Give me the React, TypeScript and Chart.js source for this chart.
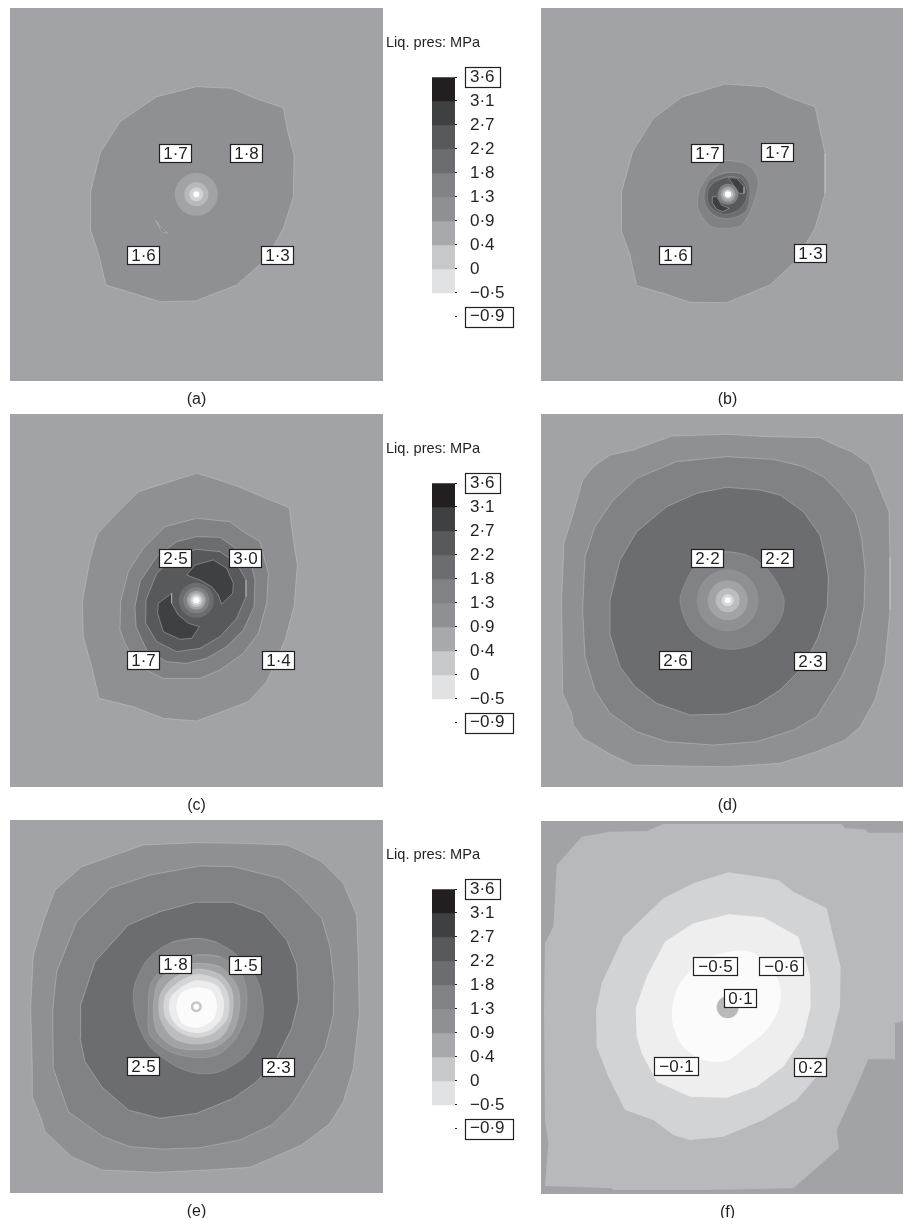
import React, { useEffect, useRef } from "react";
import { Chart, registerables } from "chart.js";

Chart.register(...registerables);

type Pt = [number, number];

const FONT = '"Liberation Sans", Arial, sans-serif';
const INK = "#231f20";
const CONTOUR = "rgba(208,209,211,0.65)";
const ROUND = 0.3;

// Grey steps of the pressure scale, darkest first
const G36 = "#231f20";
const G31 = "#3f4042";
const G27 = "#58595b";
const G22 = "#6c6d70";
const G18 = "#808285";
const G13 = "#8f9093";
const G09 = "#a2a3a6";
const G06 = "#b8b9bc";
const G04 = "#c7c8ca";
const G02 = "#d2d3d5";
const G00 = "#e1e2e3";
const G_1 = "#eeeeef";
const G_5 = "#fbfbfb";

// Legend
const LEGEND_TITLE = "Liq. pres: MPa";
const LEGEND_LABELS = ["3·6", "3·1", "2·7", "2·2", "1·8", "1·3", "0·9", "0·4", "0", "−0·5", "−0·9"];
const LEGEND_BANDS = [G36, G31, G27, G22, G18, G13, "#a7a9ac", G04, G00];
const LEGEND_BOXED = [0, 10];

// Panel (a)
const A_OUTER: Pt[] = [[590,260],[695,265],[770,297],[850,323],[862,390],[882,465],[880,590],[850,685],[800,775],[710,855],[585,903],[480,905],[400,880],[318,855],[295,760],[272,690],[272,575],[300,460],[360,365],[470,290]];
const A_SLIVER: Pt[] = [[468,662],[480,680],[503,700],[485,695]];
const A_CENTRE = { x: 589, y: 583 };
const A_RINGS: [number, string][] = [[21.5, G09], [12, G06], [7, G02], [3, "#ffffff"]];
const A_LABELS: [number, number, string][] = [[527,459,"1·7"],[738,460,"1·8"],[431,765,"1·6"],[833,765,"1·3"]];

// Panel (b)
const B_OUTER: Pt[] = [[555,252],[675,260],[745,292],[825,320],[838,380],[855,460],[855,580],[825,685],[770,780],[690,855],[560,908],[450,907],[370,880],[290,857],[270,765],[245,695],[245,575],[278,455],[340,355],[425,292]];
const B_L18: Pt[] = [[550,483],[605,487],[640,510],[655,545],[640,610],[605,675],[555,685],[515,680],[490,655],[473,620],[480,565],[515,515]];
const B_L22: Pt[] = [[560,518],[600,520],[625,545],[630,580],[620,630],[590,650],[550,655],[515,640],[495,610],[495,570],[515,535]];
const B_L27: Pt[] = [[565,530],[600,535],[620,565],[618,600],[595,630],[555,643],[525,632],[505,610],[505,570],[525,545]];
const B_D1: Pt[] = [[565,533],[590,535],[612,560],[612,580],[598,580],[585,562]];
const B_D2: Pt[] = [[517,590],[530,590],[545,615],[568,625],[548,635],[530,628],[518,610]];
const B_CENTRE = { x: 564, y: 583 };
const B_RINGS: [number, string][] = [[10.5, G18], [7.5, G09], [5, G04], [3, "#ffffff"]];
const B_LABELS: [number, number, string][] = [[503,459,"1·7"],[711,457,"1·7"],[406,765,"1·6"],[810,761,"1·3"]];

// Panel (c)
const C_OUTER: Pt[] = [[590,190],[640,205],[710,228],[790,262],[868,293],[878,375],[892,465],[882,590],[855,690],[800,815],[745,875],[665,905],[590,933],[490,925],[400,890],[297,865],[275,770],[250,680],[247,575],[270,450],[292,372],[350,310],[415,245],[520,212]];
const C_L18: Pt[] = [[590,325],[690,335],[730,365],[780,395],[790,435],[805,490],[800,580],[775,670],[730,730],[660,780],[600,805],[490,805],[440,780],[400,745],[375,700],[360,660],[362,575],[385,485],[430,415],[495,350]];
const C_L22: Pt[] = [[590,380],[660,382],[700,410],[750,450],[765,510],[762,590],[730,660],[680,710],[620,745],[560,760],[500,755],[440,720],[408,650],[405,590],[420,515],[470,440],[530,395]];
const C_L27: Pt[] = [[590,418],[660,425],[710,460],[738,510],[738,560],[710,625],[660,680],[600,715],[530,725],[470,695],[437,640],[438,570],[470,490],[530,435]];
const C_D1: Pt[] = [[560,495],[585,465],[640,450],[680,475],[700,520],[698,550],[665,582],[655,555],[635,530],[600,510]];
const C_D2: Pt[] = [[515,550],[515,580],[535,615],[565,640],[598,650],[575,685],[540,688],[490,665],[473,610],[475,580]];
const C_CENTRE = { x: 589, y: 571 };
const C_RINGS: [number, string][] = [[17.5, G22], [13, G18], [9.5, G09], [7, "#bcbdbf"], [5, "#d9dadb"], [3, "#ffffff"]];
const C_LABELS: [number, number, string][] = [[527,445,"2·5"],[737,445,"3·0"],[431,752,"1·7"],[835,752,"1·4"]];

// Panel (d)
const D_OUTER: Pt[] = [[560,73],[680,80],[840,83],[885,105],[935,125],[990,165],[1010,215],[1047,305],[1050,440],[1050,600],[1035,760],[1005,870],[960,950],[915,990],[830,1025],[720,1060],[560,1070],[420,1068],[280,1065],[215,1035],[130,985],[100,945],[95,910],[68,850],[65,570],[72,400],[100,310],[128,210],[160,170],[210,135],[280,120],[395,78]];
const D_L18: Pt[] = [[560,140],[700,148],[790,170],[850,200],[900,250],[945,310],[965,385],[975,480],[972,590],[950,700],[905,800],[830,920],[760,960],[650,995],[520,1005],[380,995],[290,965],[210,910],[165,840],[135,740],[128,600],[135,440],[165,350],[220,270],[290,205],[410,155]];
const D_L22: Pt[] = [[560,232],[660,240],[720,255],[790,305],[840,375],[855,440],[865,500],[862,590],[835,680],[790,770],[720,840],[650,885],[560,912],[450,915],[350,880],[285,830],[240,770],[212,680],[210,570],[240,450],[290,365],[380,290],[470,250]];
const D_RING: Pt[] = [[555,425],[620,435],[665,460],[700,500],[725,545],[733,575],[725,620],[690,670],[640,705],[580,718],[530,712],[480,685],[445,650],[425,600],[420,565],[435,520],[460,475],[500,440]];
const D_CENTRE = { x: 563, y: 571 };
const D_RINGS: [number, string][] = [[31, G13], [20, G09], [12, "#bcbdbf"], [6, "#d9dadb"], [3, "#ffffff"]];
const D_LABELS: [number, number, string][] = [[503,446,"2·2"],[711,446,"2·2"],[406,752,"2·6"],[810,753,"2·3"]];

// Panel (e)
const E_OUTER: Pt[] = [[590,83],[720,85],[860,90],[905,110],[965,140],[1030,205],[1070,300],[1075,440],[1078,600],[1060,760],[1030,860],[990,925],[905,990],[790,1040],[750,1057],[620,1065],[470,1072],[305,1065],[215,1025],[135,950],[125,915],[97,845],[97,760],[92,580],[100,420],[130,320],[165,225],[245,155],[430,90]];
const E_L18: Pt[] = [[600,153],[700,155],[840,190],[895,235],[965,310],[990,395],[1002,500],[1000,600],[975,700],[930,780],[875,870],[815,930],[720,975],[600,998],[490,1002],[390,995],[310,965],[205,890],[160,760],[158,590],[170,470],[230,320],[330,220],[450,180]];
const E_L22: Pt[] = [[585,262],[700,262],[790,295],[860,375],[890,450],[895,560],[875,640],[830,730],[770,800],[700,850],[590,895],[480,910],[385,885],[305,815],[255,740],[240,670],[242,570],[285,440],[385,330],[480,290]];
const E_R18: Pt[] = [[590,370],[650,382],[710,420],[770,490],[790,575],[780,650],[740,720],[660,770],[590,775],[520,750],[450,695],[415,630],[400,560],[405,505],[445,430],[515,382]];
const E_R13: Pt[] = [[590,420],[660,425],[720,470],[740,530],[735,610],[700,680],[650,720],[590,728],[510,710],[450,660],[445,580],[455,500],[520,440]];
const E_R09: Pt[] = [[590,445],[660,455],[710,510],[720,570],[700,650],[650,695],[590,705],[520,695],[470,650],[460,580],[475,500],[530,460]];
const E_R06: Pt[] = [[590,462],[660,478],[697,530],[695,610],[660,670],[590,688],[520,670],[480,610],[480,540],[520,490]];
const E_R04: Pt[] = [[590,478],[655,495],[685,540],[682,610],[640,655],[590,668],[535,650],[495,605],[495,545],[530,505]];
const E_R00: Pt[] = [[590,495],[650,510],[672,560],[665,610],[630,645],[590,655],[540,640],[510,600],[510,550],[545,515]];
const E_R_5: Pt[] = [[590,515],[635,525],[652,570],[640,615],[590,640],[545,625],[528,575],[545,530]];
const E_CENTRE = { x: 589, y: 575 };
const E_RINGS: [number, string][] = [[5.5, "#c4c5c7"], [3, "#ffffff"]];
const E_LABELS: [number, number, string][] = [[527,449,"1·8"],[737,450,"1·5"],[431,753,"2·5"],[835,757,"2·3"]];

// Panel (f)
const F_OUTER: Pt[] = [[370,12],[905,12],[915,25],[975,28],[985,38],[1122,38],[1122,595],[1065,610],[1065,718],[985,718],[950,800],[890,930],[897,985],[840,1035],[760,1105],[500,1110],[220,1110],[215,1105],[15,1098],[25,970],[15,900],[12,570],[15,370],[40,320],[50,135],[125,50],[210,35],[320,33]];
const F_L00: Pt[] = [[565,157],[660,170],[715,180],[760,215],[860,265],[880,350],[902,440],[900,560],[870,680],[830,770],[770,840],[670,900],[550,950],[450,960],[400,945],[340,900],[255,870],[205,770],[170,680],[168,570],[185,490],[250,350],[370,235],[460,190]];
const F_L01: Pt[] = [[565,283],[670,292],[775,350],[810,465],[812,560],[790,650],[730,740],[650,800],[560,833],[450,830],[350,785],[305,700],[290,650],[287,565],[320,470],[375,365],[460,310]];
const F_L05: Pt[] = [[630,395],[680,430],[718,490],[718,560],[680,630],[620,680],[560,722],[490,720],[430,680],[400,620],[397,560],[420,490],[490,420],[570,395]];
const F_CENTRE = { x: 563, y: 562 };
const F_RINGS: [number, string][] = [[11, "#b8b9bb"]];
const F_LABELS: [number, number, string][] = [[525,439,"−0·5"],[723,438,"−0·6"],[602,534,"0·1"],[409,740,"−0·1"],[811,742,"0·2"]];

const PANEL_SPAN = 1119;

type Layer = [Pt[], string, number?];
type Panel = {
  caption: string;
  left: number;
  top: number;
  x0: number;
  y0: number;
  ground: string;
  outline: number;
  polys: Layer[];
  centre: { x: number; y: number };
  rings: [number, string][];
  labels: [number, number, string][];
};

const PANELS: Panel[] = [
  { caption: "(a)", left: 10, top: 8, x0: 30, y0: 24, ground: G09, outline: 0.6, polys: [[A_OUTER, G13], [A_SLIVER, G18]], centre: A_CENTRE, rings: A_RINGS, labels: A_LABELS },
  { caption: "(b)", left: 541, top: 8, x0: 3, y0: 24, ground: G09, outline: 0.6, polys: [[B_OUTER, G13], [B_L18, G18, ROUND], [B_L22, G22, ROUND], [B_L27, G27, ROUND], [B_D1, G31], [B_D2, G31]], centre: B_CENTRE, rings: B_RINGS, labels: B_LABELS },
  { caption: "(c)", left: 10, top: 414, x0: 30, y0: 12, ground: G09, outline: 0.6, polys: [[C_OUTER, G13], [C_L18, G18], [C_L22, G22], [C_L27, G27], [C_D1, G31], [C_D2, G31]], centre: C_CENTRE, rings: C_RINGS, labels: C_LABELS },
  { caption: "(d)", left: 541, top: 414, x0: 3, y0: 12, ground: G09, outline: 0.6, polys: [[D_OUTER, G13], [D_L18, G18], [D_L22, G22], [D_RING, G18, ROUND]], centre: D_CENTRE, rings: D_RINGS, labels: D_LABELS },
  { caption: "(e)", left: 10, top: 820, x0: 30, y0: 15, ground: G09, outline: 0.6, polys: [[E_OUTER, G13], [E_L18, G18], [E_L22, G22], [E_R18, G18, ROUND], [E_R13, G13, ROUND], [E_R09, G09, ROUND], [E_R06, "#bcbdbf", ROUND], [E_R04, "#d4d5d7", ROUND], [E_R00, "#ececed", ROUND], [E_R_5, G_5, ROUND]], centre: E_CENTRE, rings: E_RINGS, labels: E_LABELS },
  { caption: "(f)", left: 541, top: 821, x0: 3, y0: 3, ground: G09, outline: 0, polys: [[F_OUTER, G06], [F_L00, G02], [F_L01, G_1], [F_L05, G_5, ROUND]], centre: F_CENTRE, rings: F_RINGS, labels: F_LABELS },
];

const LEGEND_TOPS = [30, 436, 842];

function boxedText(ctx: CanvasRenderingContext2D, text: string, cx: number, cy: number) {
  const h = 19;
  ctx.save();
  ctx.font = `17px ${FONT}`;
  const extra = text.startsWith("−") ? 3 : 0;
  const w = Math.round(ctx.measureText(text).width + 8 + extra);
  const l = Math.round(cx - w / 2);
  const t = Math.round(cy - h / 2);
  ctx.fillStyle = "#ffffff";
  ctx.fillRect(l, t, w, h);
  ctx.strokeStyle = INK;
  ctx.lineWidth = 1.2;
  ctx.strokeRect(l + 0.5, t + 0.5, w - 1, h - 1);
  ctx.fillStyle = INK;
  ctx.textAlign = "center";
  ctx.textBaseline = "middle";
  ctx.fillText(text, l + w / 2, t + h / 2 + 0.5);
  ctx.restore();
}

function panelConfig(p: Panel): any {
  const polys = p.polys.map(([pts, color, tension]) => {
    // a rounded contour wraps past its start, so the curve has no cusp where it closes
    const path = tension ? [pts[pts.length - 1], ...pts, pts[0], pts[1]] : [...pts, pts[0]];
    return {
      type: "scatter",
      showLine: true,
      fill: "shape",
      data: path.map(([x, y]) => ({ x, y })),
      backgroundColor: color,
      borderColor: CONTOUR,
      borderWidth: tension ? p.outline / 2 : p.outline,
      tension: tension ?? 0,
      pointRadius: 0,
      pointHoverRadius: 0,
    };
  });
  const rings = p.rings.map(([r, color]) => ({
    type: "bubble",
    data: [{ x: p.centre.x, y: p.centre.y, r }],
    backgroundColor: color,
    borderColor: color,
    borderWidth: 0,
  }));
  const all = [...polys, ...rings];
  const datasets = all.map((d, i) => ({ ...d, order: all.length - i }));
  return {
    type: "scatter",
    data: { datasets },
    options: {
      animation: false,
      responsive: false,
      events: [],
      layout: { autoPadding: false, padding: 0 },
      plugins: { legend: { display: false }, tooltip: { enabled: false } },
      scales: {
        x: {
          type: "linear",
          min: p.x0,
          max: p.x0 + PANEL_SPAN,
          grid: { display: false },
          border: { display: false },
          ticks: { display: false },
          title: { display: true, text: p.caption, color: INK, font: { family: FONT, size: 16 }, padding: { top: 6, bottom: 0 } },
          afterFit: (s: any) => { s.height = 28; },
        },
        y: { type: "linear", display: false, reverse: true, min: p.y0, max: p.y0 + PANEL_SPAN },
      },
    },
    plugins: [
      {
        id: "ground",
        beforeDatasetsDraw(chart: any) {
          const { ctx, chartArea: a } = chart;
          ctx.save();
          ctx.fillStyle = p.ground;
          ctx.fillRect(a.left, a.top, a.right - a.left, a.bottom - a.top);
          ctx.restore();
        },
      },
      {
        id: "valueBoxes",
        afterDatasetsDraw(chart: any) {
          const { ctx, scales } = chart;
          for (const [x, y, text] of p.labels) {
            boxedText(ctx, text, scales.x.getPixelForValue(x), scales.y.getPixelForValue(y));
          }
        },
      },
    ],
  };
}

function legendConfig(): any {
  return {
    type: "bar",
    data: {
      labels: [""],
      datasets: LEGEND_BANDS.map((color, i) => ({
        data: [[i, i + 1]],
        backgroundColor: color,
        borderWidth: 0,
        grouped: false,
        barPercentage: 1,
        categoryPercentage: 1,
      })),
    },
    options: {
      animation: false,
      responsive: false,
      events: [],
      layout: { padding: { left: 46, top: 47, bottom: 13, right: 0 } },
      plugins: { legend: { display: false }, tooltip: { enabled: false } },
      scales: {
        x: { display: false },
        y: {
          type: "linear",
          position: "right",
          reverse: true,
          min: 0,
          max: LEGEND_LABELS.length - 1,
          border: { display: false },
          grid: { drawOnChartArea: false, drawTicks: true, tickLength: 2, color: INK },
          ticks: {
            stepSize: 1,
            padding: 13,
            color: INK,
            autoSkip: false,
            font: { family: FONT, size: 17 },
            callback: (v: number) => LEGEND_LABELS[v],
          },
          afterFit: (s: any) => { s.width = 75; },
        },
      },
    },
    plugins: [
      {
        id: "legendText",
        afterDraw(chart: any) {
          const { ctx, scales } = chart;
          ctx.save();
          ctx.font = `14.6px ${FONT}`;
          ctx.fillStyle = INK;
          ctx.textBaseline = "middle";
          ctx.textAlign = "left";
          ctx.fillText(LEGEND_TITLE, 0, 13);
          ctx.font = `17px ${FONT}`;
          ctx.strokeStyle = INK;
          ctx.lineWidth = 1.2;
          for (const i of LEGEND_BOXED) {
            const py = scales.y.getPixelForValue(i);
            const label = LEGEND_LABELS[i];
            const w = ctx.measureText(label).width + (label.startsWith("−") ? 14 : 10);
            ctx.strokeRect(Math.round(scales.y.left + 10) + 0.5, Math.round(py - 10) + 0.5, Math.round(w), 20);
          }
          ctx.restore();
        },
      },
    ],
  };
}

function ChartCanvas({ config, left, top, width, height }: { config: () => any; left: number; top: number; width: number; height: number }) {
  const ref = useRef<HTMLCanvasElement | null>(null);
  useEffect(() => {
    const chart = new Chart(ref.current as HTMLCanvasElement, config());
    return () => chart.destroy();
  }, []);
  return <canvas ref={ref} width={width} height={height} style={{ position: "absolute", left, top, width, height }} />;
}

export default function App() {
  return (
    <div style={{ position: "fixed", left: 0, top: 0, width: 903, height: 1218, overflow: "hidden", background: "#ffffff" }}>
      {PANELS.map((p) => (
        <ChartCanvas key={p.caption} config={() => panelConfig(p)} left={p.left} top={p.top} width={373} height={401} />
      ))}
      {LEGEND_TOPS.map((t) => (
        <ChartCanvas key={t} config={legendConfig} left={386} top={t} width={144} height={310} />
      ))}
    </div>
  );
}
